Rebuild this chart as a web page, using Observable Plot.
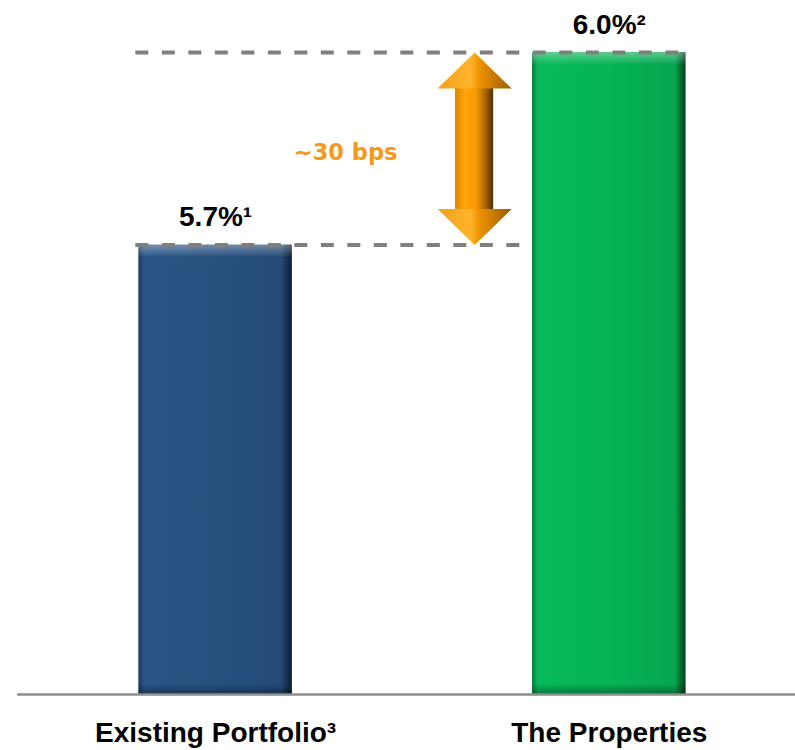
<!DOCTYPE html>
<html>
<head>
<meta charset="utf-8">
<script src="https://cdn.jsdelivr.net/npm/d3@7"></script>
<script src="https://cdn.jsdelivr.net/npm/@observablehq/plot@0.6"></script>
<style>
  body { margin: 0; background: #ffffff; }
  #chart svg { display: block; }
</style>
</head>
<body>
<div id="chart"></div>
<script>
// ---- data ----
const categories = ["Existing Portfolio", "The Properties"];
const categoryLabels = ["Existing Portfolio\u00B3", "The Properties"];
const values = [5.7, 6.0];
const valueLabels = ["5.7%\u00B9", "6.0%\u00B2"];
const spreadLabel = "~30 bps";
const yDomain = [5.0, 6.0];

const data = categories.map((c, i) => ({
  category: c,
  value: values[i],
  label: valueLabels[i],
  axisLabel: categoryLabels[i],
  grad: i === 0 ? "url(#gradBlue)" : "url(#gradGreen)"
}));
const spread = [{from: values[0], to: values[1], label: spreadLabel}];

const labelFont = "'Liberation Sans', Arial, sans-serif";
const arrowDx = 259;

const headTop = {draw(ctx) { ctx.moveTo(0, 0); ctx.lineTo(37, 36); ctx.lineTo(-37, 36); ctx.closePath(); }};
const headBottom = {draw(ctx) { ctx.moveTo(0, 0); ctx.lineTo(37, -36); ctx.lineTo(-37, -36); ctx.closePath(); }};

const chart = Plot.plot({
  width: 795,
  height: 750,
  marginLeft: 17,
  marginRight: 0,
  marginTop: 52,
  marginBottom: 56,
  style: {background: "#ffffff", overflow: "visible"},
  x: {domain: categories, range: [59.6, 764.3], paddingInner: 0.61, paddingOuter: 0.2, round: false, axis: null},
  y: {domain: yDomain, axis: null},
  color: {type: "identity"},
  marks: [
    // bars
    Plot.barY(data, {x: "category", y1: yDomain[0], y2: "value", fill: "grad"}),
    // top bevel highlight
    Plot.barY(data, {x: "category", y1: "value", y2: "value", insetBottom: -13, fill: "url(#gradTop)"}),
    // bottom bevel shadow
    Plot.barY(data, {x: "category", y1: yDomain[0], y2: yDomain[0], insetTop: -10, fill: "url(#gradBottom)"}),
    // baseline
    Plot.ruleY([yDomain[0]], {stroke: "#8c8c8c", strokeWidth: 2.5}),
    // dashed guide lines
    Plot.ruleY([values[1]], {x1: () => categories[0], x2: () => categories[1], insetLeft: -3, insetRight: -4, stroke: "#7f7f7f", strokeWidth: 4, strokeDasharray: "13,13.5"}),
    Plot.ruleY([values[0]], {x1: () => categories[0], x2: () => categories[1], insetLeft: -3, insetRight: 156, stroke: "#7f7f7f", strokeWidth: 4, strokeDasharray: "13,13.5"}),
    // arrow shaft
    Plot.barY(spread, {x: () => categories[0], y1: "from", y2: "to", insetLeft: 57.7, insetRight: 57.7, insetTop: 30, insetBottom: 30, dx: arrowDx, fill: "url(#gradArrow)"}),
    // arrow heads
    Plot.dot(spread, {x: () => categories[0], y: "to", dx: arrowDx, symbol: headTop, fill: "url(#gradHead)"}),
    Plot.dot(spread, {x: () => categories[0], y: "from", dx: arrowDx, symbol: headBottom, fill: "url(#gradHead)"}),
    // spread label
    Plot.text(spread, {x: () => categories[0], y: d => (d.from + d.to) / 2, text: "label", dx: 130, dy: 4, lineAnchor: "middle", fill: "#f39a1c", fontSize: 22.5, fontWeight: "bold", fontFamily: "'DejaVu Sans', sans-serif"}),
    // value labels
    Plot.text(data, {x: "category", y: "value", text: "label", dy: -19, lineAnchor: "bottom", fill: "#000", fontSize: 28, fontWeight: "bold", fontFamily: labelFont}),
    // category labels
    Plot.text(data, {x: "category", y: yDomain[0], text: "axisLabel", dy: 39, lineAnchor: "middle", fill: "#000", fontSize: 28, fontWeight: "bold", fontFamily: labelFont})
  ]
});

// gradient definitions for the bevel look
const defs = d3.select(chart).insert("defs", ":first-child");
function hgrad(id, stops, vertical) {
  const g = defs.append("linearGradient").attr("id", id)
    .attr("x1", 0).attr("y1", 0).attr("x2", vertical ? 0 : 1).attr("y2", vertical ? 1 : 0);
  stops.forEach(([o, c, a]) => g.append("stop").attr("offset", o).attr("stop-color", c).attr("stop-opacity", a == null ? 1 : a));
}
hgrad("gradBlue", [[0, "#1b3a5f"], [0.04, "#2a5486"], [0.5, "#27507f"], [0.93, "#244a77"], [1, "#0d1b2e"]]);
hgrad("gradGreen", [[0, "#057d3e"], [0.04, "#08b95b"], [0.5, "#06b357"], [0.93, "#05a64f"], [1, "#033d1d"]]);
hgrad("gradTop", [[0, "#ffffff", 0.35], [1, "#ffffff", 0]], true);
hgrad("gradBottom", [[0, "#000000", 0], [1, "#000000", 0.35]], true);
hgrad("gradArrow", [[0, "#d88600"], [0.25, "#ffa40a"], [0.55, "#f79a00"], [0.8, "#a86400"], [1, "#4d2e00"]]);
hgrad("gradHead", [[0, "#f0a020"], [0.45, "#ffb42a"], [0.55, "#f09400"], [1, "#9a5c00"]]);

document.getElementById("chart").appendChild(chart);
</script>
</body>
</html>
